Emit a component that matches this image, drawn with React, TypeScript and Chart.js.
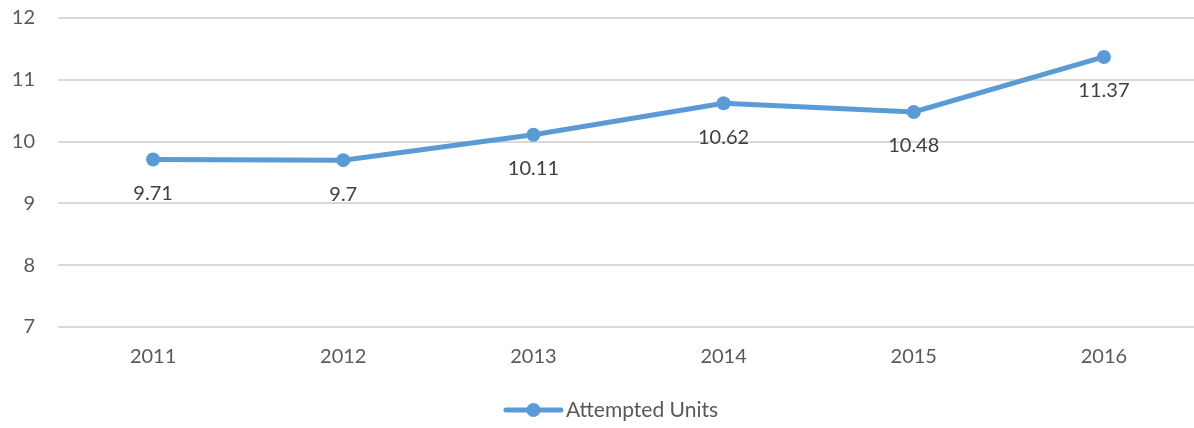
import React, { useEffect, useRef } from "react";
import { Chart, registerables } from "chart.js";

Chart.register(...registerables);

const categories = ["2011", "2012", "2013", "2014", "2015", "2016"];
const seriesName = "Attempted Units";
const values = [9.71, 9.7, 10.11, 10.62, 10.48, 11.37];
const yTicks = [7, 8, 9, 10, 11, 12];

const FONT = "Lato, 'Open Sans', sans-serif";
const LINE = "#5B9BD5";
const VIEW_W = 1194;
const CANVAS_W = 1206;

const dataLabels = {
  id: "dataLabels",
  afterDatasetsDraw(chart: any) {
    const ctx = chart.ctx;
    const meta = chart.getDatasetMeta(0);
    ctx.save();
    ctx.font = `20px ${FONT}`;
    ctx.fillStyle = "#404040";
    ctx.textAlign = "center";
    ctx.textBaseline = "middle";
    meta.data.forEach((pt: any, i: number) => {
      ctx.fillText(String(values[i]), pt.x, pt.y + 34);
    });
    ctx.restore();
  },
};

const customLegend = {
  id: "customLegend",
  afterDraw(chart: any) {
    const ctx = chart.ctx;
    ctx.save();
    ctx.font = `21px ${FONT}`;
    const textW = ctx.measureText(seriesName).width;
    const lineW = 55;
    const gap = 5;
    const total = lineW + gap + textW;
    const cx = VIEW_W / 2 + 15;
    const x0 = cx - total / 2;
    const y = 410;
    ctx.strokeStyle = LINE;
    ctx.lineWidth = 5;
    ctx.lineCap = "round";
    ctx.beginPath();
    ctx.moveTo(x0, y);
    ctx.lineTo(x0 + lineW, y);
    ctx.stroke();
    ctx.fillStyle = LINE;
    ctx.beginPath();
    ctx.arc(x0 + lineW / 2, y, 7, 0, Math.PI * 2);
    ctx.fill();
    ctx.fillStyle = "#595959";
    ctx.textAlign = "left";
    ctx.textBaseline = "middle";
    ctx.fillText(seriesName, x0 + lineW + gap, y);
    ctx.restore();
  },
};

export default function App() {
  const ref = useRef<HTMLCanvasElement | null>(null);
  useEffect(() => {
    document.body.style.margin = "0";
    document.body.style.overflow = "hidden";
    if (!ref.current) return;
    const chart = new Chart(ref.current, {
      type: "line",
      data: {
        labels: categories,
        datasets: [
          {
            label: seriesName,
            data: values,
            borderColor: LINE,
            backgroundColor: LINE,
            borderWidth: 5,
            pointRadius: 7,
            pointHoverRadius: 7,
            pointBackgroundColor: LINE,
            pointBorderWidth: 0,
            tension: 0,
          },
        ],
      },
      options: {
        animation: false,
        responsive: false,
        layout: { padding: { top: 18, right: 0, left: 0, bottom: 0 } },
        plugins: {
          legend: { display: false },
          tooltip: { enabled: false },
        },
        scales: {
          x: {
            offset: true,
            grid: { display: false, drawTicks: false },
            border: { display: false },
            ticks: {
              color: "#595959",
              font: { family: FONT, size: 20 },
              padding: 18,
            },
            afterFit(scale: any) {
              scale.height = 101;
              scale.paddingLeft = 0;
              scale.paddingRight = 0;
            },
          },
          y: {
            min: 7,
            max: 12,
            afterBuildTicks(scale: any) {
              scale.ticks = yTicks.map((v) => ({ value: v }));
            },
            grid: { color: "#d9d9d9", lineWidth: 2, drawTicks: false },
            border: { display: false },
            ticks: {
              color: "#595959",
              font: { family: FONT, size: 20 },
              padding: 23,
            },
            afterFit(scale: any) {
              scale.width = 58;
              scale.paddingTop = 0;
              scale.paddingBottom = 0;
            },
          },
        },
      },
      plugins: [dataLabels, customLegend],
    });
    return () => chart.destroy();
  }, []);
  return (
    <div style={{ width: VIEW_W, height: 428, overflow: "hidden" }}>
      <canvas ref={ref} width={CANVAS_W} height={428} style={{ display: "block" }} />
    </div>
  );
}
